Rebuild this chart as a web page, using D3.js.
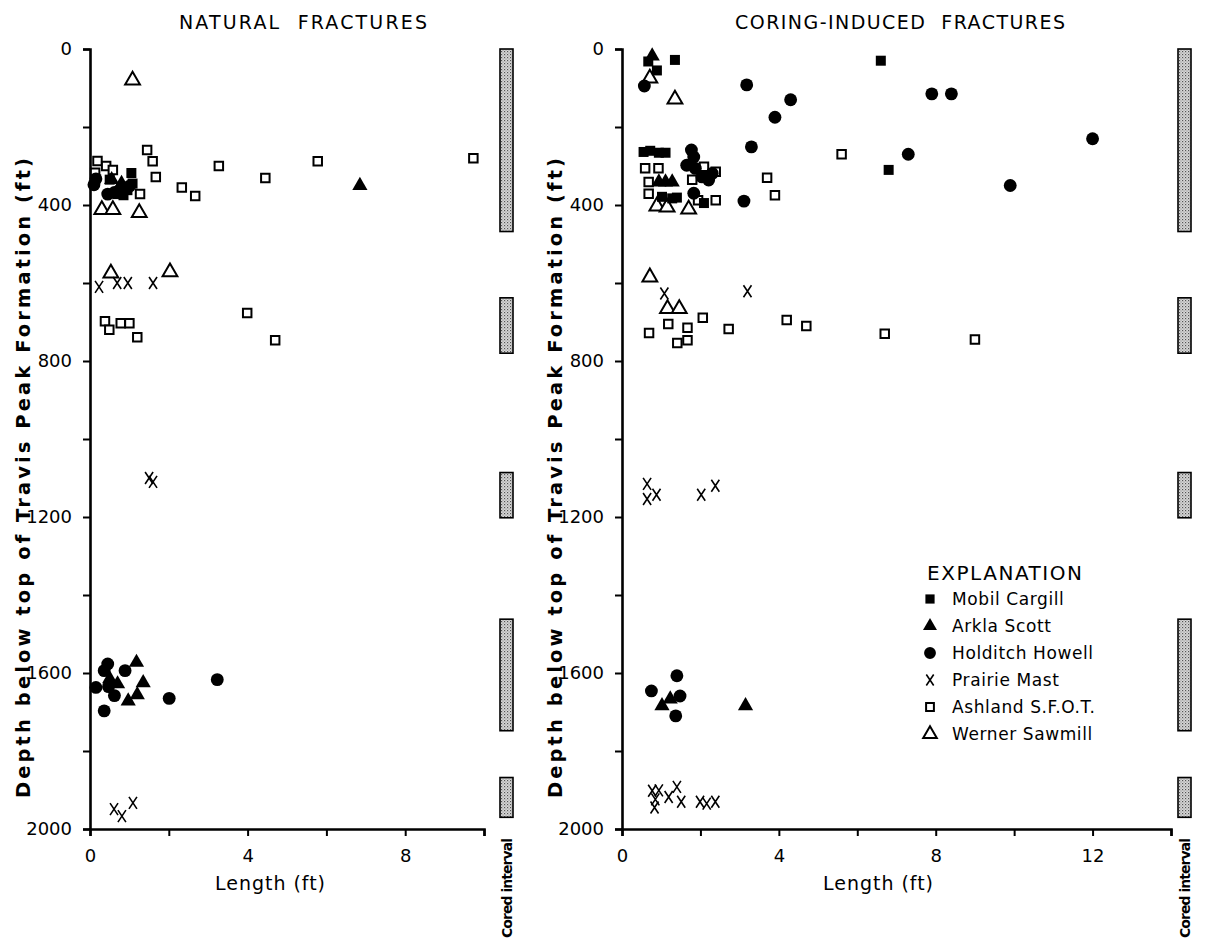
<!DOCTYPE html>
<html><head><meta charset="utf-8">
<script src="https://cdn.jsdelivr.net/npm/d3@7"></script>
<style>
html,body{margin:0;padding:0;background:#fff;}
svg{display:block;}
text{font-family:"DejaVu Sans",sans-serif;fill:#000;}
</style></head>
<body><svg id="c" width="1214" height="944"></svg>
<script>
// ---------- DATA (length ft, depth ft) ----------
const seriesNames = ["Mobil Cargill","Arkla Scott","Holditch Howell","Prairie Mast","Ashland S.F.O.T.","Werner Sawmill"];
const depthTicks = [0,200,400,600,800,1000,1200,1400,1600,1800,2000];
const depthLabels = [0,400,800,1200,1600,2000];
const coredIntervals = [[0,468],[638,780],[1086,1202],[1462,1748],[1868,1970]];

// Natural fractures
const natMobil = [[1.05,318],[1.08,345],[0.95,362],[0.85,375],[0.7,372],[0.5,335]];
const natArkla = [[0.55,335],[0.8,345],[6.85,350],[1.18,1573],[1.35,1625],[1.2,1656],[0.97,1672],[0.7,1628],[0.5,1615]];
const natHolditch = [[0.1,348],[0.15,333],[0.45,372],[0.62,368],[0.78,360],[1.0,352],
  [0.45,1577],[0.36,1594],[0.89,1594],[0.15,1637],[0.47,1635],[0.62,1658],[0.36,1697],[2.01,1665],[3.23,1617]];
const natPrairie = [[0.23,610],[0.69,600],[0.96,600],[1.6,600],[1.5,1100],[1.6,1110],[0.61,1949],[0.81,1967],[1.09,1933]];
const natAshland = [[1.45,259],[1.59,288],[1.67,328],[0.19,287],[0.41,300],[0.58,310],[0.13,317],[1.27,372],[2.33,355],
  [2.67,377],[3.27,300],[4.45,331],[5.78,288],[9.73,280],
  [0.38,698],[0.49,720],[0.78,703],[1.0,703],[1.2,739],[3.99,677],[4.7,747]];
const natWerner = [[1.08,80],[0.3,412],[0.58,412],[1.25,420],[0.53,575],[2.03,572]];

// Coring-induced fractures
const corMobil = [[0.67,32],[1.35,28],[0.89,55],[6.6,30],[0.55,264],[0.72,261],[0.94,266],[1.11,266],
  [1.02,379],[1.28,383],[1.4,381],[2.09,395],[6.8,310]];
const corArkla = [[0.77,18],[0.94,341],[1.11,341],[1.28,341],[1.02,1684],[1.23,1667],[3.15,1684]];
const corHolditch = [[0.57,95],[3.18,92],[7.9,115],[8.4,115],[4.3,130],[3.9,175],[3.3,251],[7.3,270],[12.0,230],
  [9.9,350],[3.11,390],[1.77,259],[1.83,277],[1.65,298],[1.87,306],[2.04,328],[2.21,336],[2.3,319],[1.83,370],
  [1.4,1607],[0.75,1646],[1.48,1659],[1.37,1710]];
const corPrairie = [[1.08,627],[3.2,621],[0.64,1115],[0.64,1154],[0.88,1143],[2.02,1143],[2.38,1120],
  [0.77,1902],[0.94,1901],[0.85,1924],[0.83,1945],[1.19,1918],[1.4,1892],[1.51,1930],[1.99,1930],[2.16,1935],[2.38,1930]];
const corAshland = [[0.59,306],[0.93,306],[0.68,341],[0.68,371],[1.79,335],[2.09,302],[2.39,315],[1.94,388],[2.39,388],
  [5.6,270],[3.7,330],[3.9,375],[0.69,728],[1.18,705],[1.67,715],[1.41,754],[1.67,747],[2.06,689],[2.72,718],
  [4.2,695],[4.7,710],[6.7,730],[9.0,745]];
const corWerner = [[0.71,75],[1.35,129],[0.89,403],[1.15,406],[1.7,411],[0.71,585],[1.16,666],[1.46,666]];

// ---------- DRAW ----------
const svg = d3.select("#c");
const defs = svg.append("defs");
const pat = defs.append("pattern").attr("id","stip").attr("width",3).attr("height",3).attr("patternUnits","userSpaceOnUse");
pat.append("rect").attr("width",3).attr("height",3).attr("fill","#d8d8d8");
pat.append("rect").attr("x",0).attr("y",0).attr("width",1.2).attr("height",1.2).attr("fill","#555");
pat.append("rect").attr("x",1.5).attr("y",1.5).attr("width",1.1).attr("height",1.1).attr("fill","#888");

function drawSym(g, kind, scale){
  scale = scale||1;
  if(kind==="fsq") g.append("path").attr("d",d3.symbol(d3.symbolSquare, 100*scale*scale)()).attr("fill","#000");
  else if(kind==="ftri") g.append("path").attr("d",d3.symbol(d3.symbolTriangle, 100*scale*scale)()).attr("fill","#000");
  else if(kind==="circ") g.append("path").attr("d",d3.symbol(d3.symbolCircle, 130*scale*scale)()).attr("fill","#000");
  else if(kind==="x") g.append("path").attr("d",`M${-4*scale},${-6*scale}L${4*scale},${6*scale}M${4*scale},${-6*scale}L${-4*scale},${6*scale}`)
      .attr("stroke","#000").attr("stroke-width",1.6).attr("fill","none");
  else if(kind==="osq") g.append("path").attr("d",d3.symbol(d3.symbolSquare, 72*scale*scale)()).attr("fill","#fff")
      .attr("stroke","#000").attr("stroke-width",2);
  else if(kind==="otri") g.append("path").attr("d",d3.symbol(d3.symbolTriangle, 95*scale*scale)()).attr("fill","#fff")
      .attr("stroke","#000").attr("stroke-width",2).attr("stroke-linejoin","miter");
}

const panels = [
  {title:"NATURAL  FRACTURES", tx:179, tlen:248, xmax:10, x0:90, x1:484, barX:500, ylabX:22, xlabX:270,
   data:[natAshland, natWerner, natPrairie, natHolditch, natArkla, natMobil], order:[0,1,2,3,4,5]},
  {title:"CORING-INDUCED  FRACTURES", tx:735, tlen:330, xmax:14, x0:622, x1:1171, barX:1178, ylabX:554, xlabX:878,
   data:[corAshland, corWerner, corPrairie, corHolditch, corArkla, corMobil], order:[0,1,2,3,4,5]}
];
const kindOf = ["osq","otri","x","circ","ftri","fsq"];
const yTop = 49, yBot = 829;

panels.forEach(p=>{
  const x = d3.scaleLinear().domain([0,p.xmax]).range([p.x0,p.x1]);
  const y = d3.scaleLinear().domain([0,2000]).range([yTop,yBot]);
  const g = svg.append("g");

  // title
  g.append("text").attr("x",p.tx).attr("y",29).attr("font-size",19).attr("textLength",p.tlen)
    .attr("lengthAdjust","spacing").style("white-space","pre").text(p.title);

  // y axis
  const ya = g.append("g").attr("transform",`translate(${p.x0},0)`)
    .call(d3.axisLeft(y).tickValues(depthTicks).tickFormat(d=>depthLabels.includes(d)?d:"").tickSize(7).tickSizeOuter(7).tickPadding(11));
  // x axis
  const xt = d3.range(0,p.xmax+0.001,2);
  const xa = g.append("g").attr("transform",`translate(0,${yBot})`)
    .call(d3.axisBottom(x).tickValues(xt).tickFormat(d=>d%4===0?d:"").tickSize(7).tickSizeOuter(7).tickPadding(13));
  [ya,xa].forEach(a=>{
    a.select(".domain").attr("stroke","#000").attr("stroke-width",2.6);
    a.selectAll(".tick line").attr("stroke","#000").attr("stroke-width",2);
    a.selectAll("text").attr("font-size",18).attr("fill","#000").style("font-family","DejaVu Sans");
  });

  // axis titles
  g.append("text").attr("transform",`translate(${p.ylabX+8},478) rotate(-90)`).attr("text-anchor","middle")
    .attr("font-size",19.5).attr("font-weight","bold").attr("textLength",640).attr("lengthAdjust","spacing")
    .text("Depth below top of Travis Peak Formation (ft)");
  g.append("text").attr("x",p.xlabX).attr("y",890).attr("text-anchor","middle").attr("font-size",19)
    .attr("textLength",110).attr("lengthAdjust","spacing").text("Length (ft)");

  // cored intervals
  g.selectAll("rect.cored").data(coredIntervals).enter().append("rect").attr("class","cored")
    .attr("x",p.barX).attr("width",13).attr("y",d=>y(d[0])).attr("height",d=>y(d[1])-y(d[0]))
    .attr("fill","url(#stip)").attr("stroke","#000").attr("stroke-width",1.6);
  g.append("text").attr("transform",`translate(${p.barX+12},888) rotate(-90)`).attr("text-anchor","middle")
    .attr("font-size",14).attr("font-weight","bold").attr("textLength",100).attr("lengthAdjust","spacing").text("Cored interval");

  // points
  p.order.forEach(si=>{
    const kind = kindOf[si];
    g.append("g").selectAll("g").data(p.data[si]).enter().append("g")
      .attr("transform",d=>`translate(${x(d[0])},${y(d[1])})`)
      .each(function(){ drawSym(d3.select(this), kind, 1); });
  });
});

// legend
const lg = svg.append("g");
lg.append("text").attr("x",927).attr("y",580).attr("font-size",20).attr("textLength",155).attr("lengthAdjust","spacing").text("EXPLANATION");
const legKinds = ["fsq","ftri","circ","x","osq","otri"];
seriesNames.forEach((n,i)=>{
  const yy = 599 + i*27;
  const s = lg.append("g").attr("transform",`translate(930,${yy})`);
  drawSym(s, legKinds[i], 0.92);
  lg.append("text").attr("x",952).attr("y",yy+6).attr("font-size",17).attr("letter-spacing",0.6).text(n);
});
</script></body></html>
